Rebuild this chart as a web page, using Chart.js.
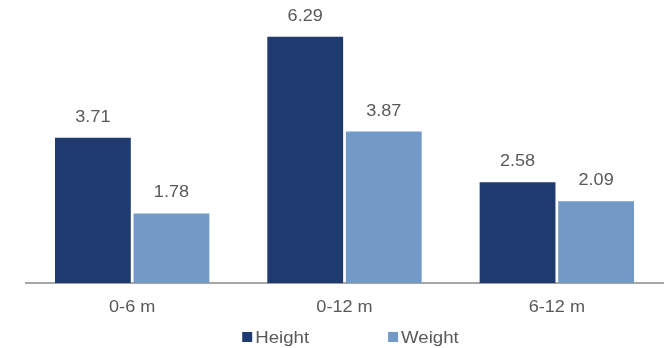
<!DOCTYPE html>
<html>
<head>
<meta charset="utf-8">
<script src="https://cdn.jsdelivr.net/npm/chart.js@4"></script>
<style>
  html, body { margin: 0; padding: 0; background: #ffffff; }
  #wrap { width: 667px; height: 348px; position: relative; }
</style>
</head>
<body>
<div id="wrap"><canvas id="chart" width="667" height="348"></canvas></div>
<script>
// Growth over age windows
const categories = ['0-6 m', '0-12 m', '6-12 m'];
const heightValues = [3.71, 6.29, 2.58];
const weightValues = [1.78, 3.87, 2.09];
const seriesNames = ['Height', 'Weight'];
const seriesColors = ['#1F3A6F', '#7399C7'];

const textColor = '#595959';
const fontFamily = '"Liberation Sans", Arial, sans-serif';
const stretchX = 1.13;   // slightly widened lettering

// Draw text centred on x, widened horizontally
function wideText(ctx, text, x, y, align) {
  ctx.save();
  ctx.translate(x, y);
  ctx.scale(stretchX, 1);
  ctx.textAlign = align || 'center';
  ctx.fillText(text, 0, 0);
  ctx.restore();
}

// Value labels above each bar
const valueLabels = {
  id: 'valueLabels',
  afterDatasetsDraw(chart) {
    const ctx = chart.ctx;
    ctx.save();
    ctx.font = '16px ' + fontFamily;
    ctx.fillStyle = textColor;
    ctx.textBaseline = 'alphabetic';
    chart.data.datasets.forEach((ds, i) => {
      chart.getDatasetMeta(i).data.forEach((bar, j) => {
        wideText(ctx, ds.data[j].toFixed(2), bar.x, bar.y - 16);
      });
    });
    ctx.restore();
  }
};

// Category names under the axis line
const categoryLabels = {
  id: 'categoryLabels',
  afterDraw(chart) {
    const ctx = chart.ctx;
    const xs = chart.scales.x;
    ctx.save();
    ctx.font = '16px ' + fontFamily;
    ctx.fillStyle = textColor;
    ctx.textBaseline = 'alphabetic';
    chart.data.labels.forEach((lab, i) => {
      wideText(ctx, lab, xs.getPixelForTick(i), chart.chartArea.bottom + 28.5);
    });
    ctx.restore();
  }
};

// Legend row at the bottom: small square followed closely by the name
const bottomLegend = {
  id: 'bottomLegend',
  afterDraw(chart) {
    const ctx = chart.ctx;
    const box = 10, textGap = 3, itemGap = 79;
    ctx.save();
    ctx.font = '16.5px ' + fontFamily;
    const items = chart.data.datasets.map(ds => ({
      label: ds.label, color: ds.backgroundColor,
      w: box + textGap + ctx.measureText(ds.label).width * stretchX
    }));
    const total = items.reduce((s, it) => s + it.w, 0) + itemGap * (items.length - 1);
    const area = chart.chartArea;
    let x = (area.left + area.right) / 2 - total / 2 + 6;
    const cy = 337;
    ctx.textBaseline = 'alphabetic';
    items.forEach(it => {
      ctx.fillStyle = it.color;
      ctx.fillRect(x, cy - box / 2, box, box);
      ctx.fillStyle = textColor;
      wideText(ctx, it.label, x + box + textGap, cy + 6, 'left');
      x += it.w + itemGap;
    });
    ctx.restore();
  }
};

new Chart(document.getElementById('chart'), {
  type: 'bar',
  data: {
    labels: categories,
    datasets: [
      { label: seriesNames[0], data: heightValues, backgroundColor: seriesColors[0] },
      { label: seriesNames[1], data: weightValues, backgroundColor: seriesColors[1] }
    ]
  },
  options: {
    responsive: false,
    animation: false,
    devicePixelRatio: 1,
    layout: { padding: { left: 26, right: 4, top: 9, bottom: 0 } },
    datasets: {
      bar: { categoryPercentage: 0.74, barPercentage: 0.965, borderWidth: 0 }
    },
    plugins: {
      legend: { display: false },
      tooltip: { enabled: false }
    },
    scales: {
      x: {
        grid: { display: false, drawTicks: false },
        border: { display: true, color: '#A6A6A6', width: 2 },
        ticks: { display: false },
        afterFit(scale) { scale.height = 64.8; }
      },
      y: {
        display: false,
        min: 0,
        max: 7
      }
    }
  },
  plugins: [valueLabels, categoryLabels, bottomLegend]
});
</script>
</body>
</html>
